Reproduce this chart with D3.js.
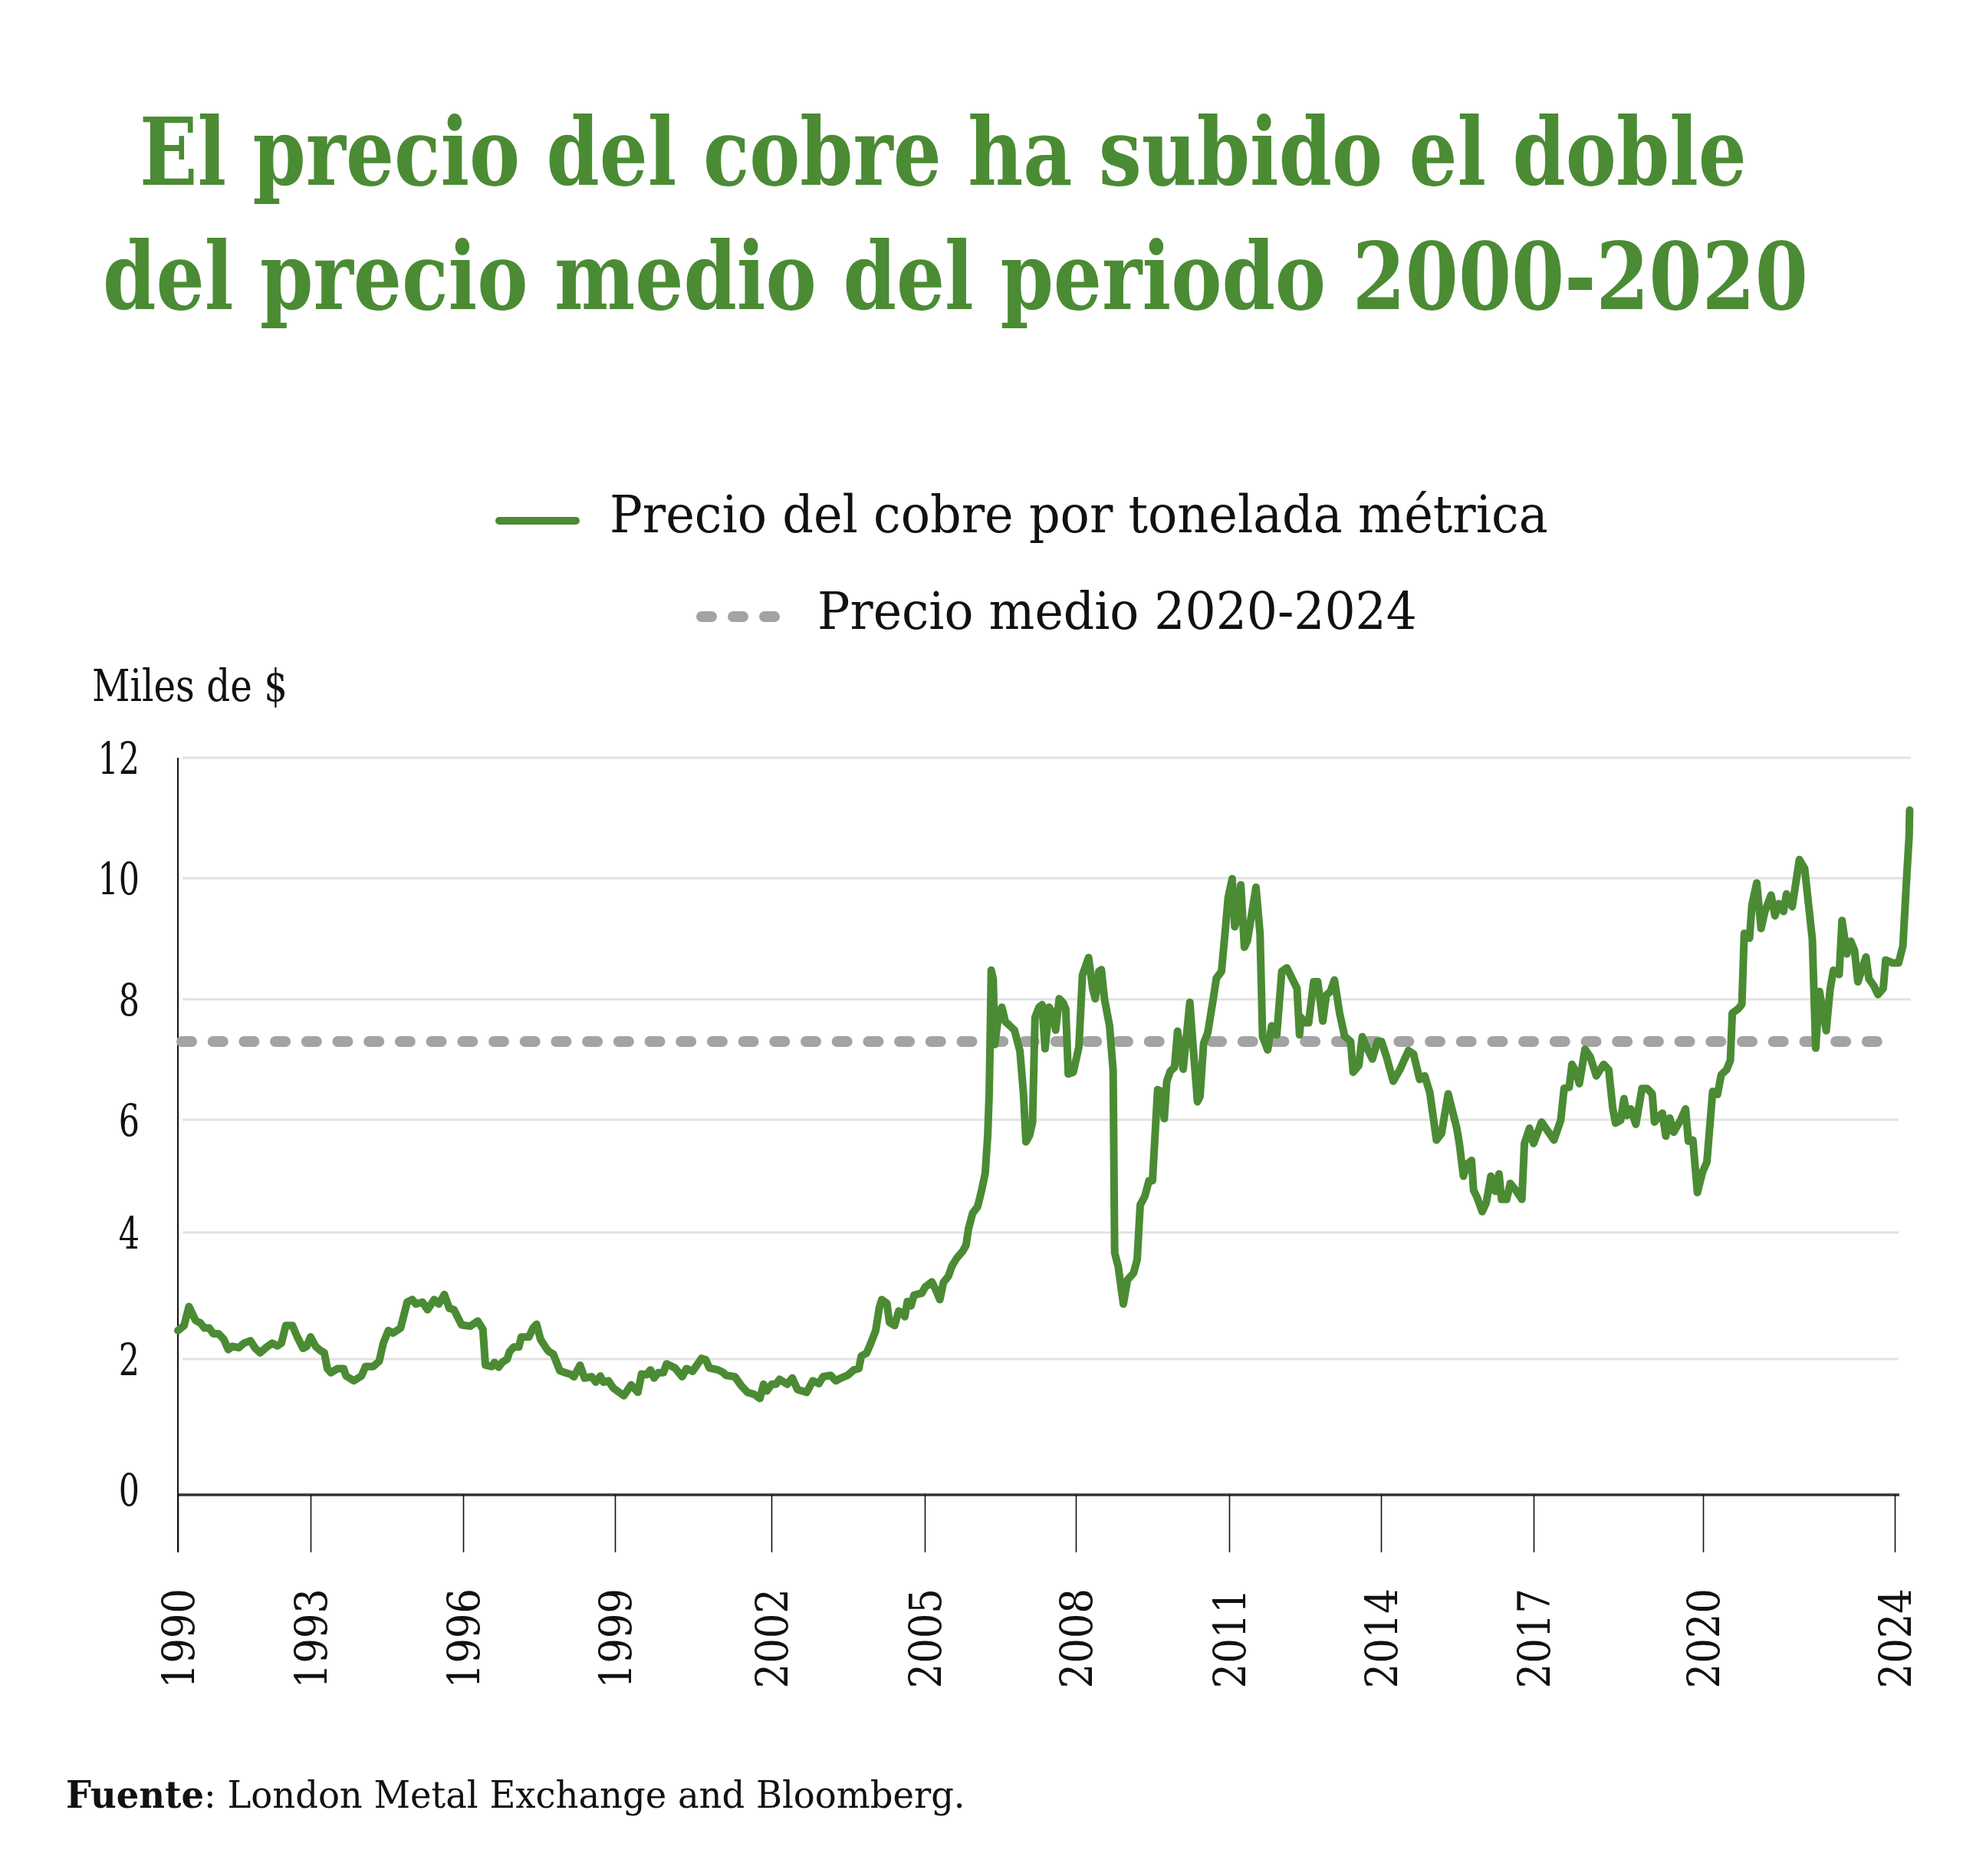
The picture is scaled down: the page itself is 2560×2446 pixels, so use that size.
<!DOCTYPE html>
<html><head><meta charset="utf-8">
<script src="https://cdn.jsdelivr.net/npm/d3@7"></script>
<style>
html,body{margin:0;padding:0;background:#fff;}
svg{display:block;}
text{font-family:"DejaVu Serif",serif;font-stretch:condensed;}
</style></head><body>
<svg id="chart" width="2560" height="2446"></svg>
<script>
// ---------- data ----------
const titleLines = ["El precio del cobre ha subido el doble", "del precio medio del periodo 2000-2020"];
const legendLabels = ["Precio del cobre por tonelada métrica", "Precio medio 2020-2024"];
const yAxisTitle = "Miles de $";
const sourceBold = "Fuente";
const sourceRest = ": London Metal Exchange and Bloomberg.";
const yTicks = [0, 2, 4, 6, 8, 10, 12];
const xTicks = [1990, 1993, 1996, 1999, 2002, 2005, 2008, 2011, 2014, 2017, 2020, 2024];
const averagePrice = 7.3;

const years = [
1990.00,1990.14,1990.25,1990.40,1990.51,1990.60,1990.71,1990.80,1990.92,1991.04,1991.14,1991.23,1991.38,1991.49,1991.64,1991.75,1991.86,1991.99,
1992.13,1992.25,1992.34,1992.44,1992.59,1992.70,1992.83,1992.91,1993.00,1993.10,1993.20,1993.27,1993.33,1993.40,1993.53,1993.65,1993.70,1993.85,
1994.00,1994.08,1994.23,1994.35,1994.43,1994.53,1994.62,1994.77,1994.90,1995.00,1995.07,1995.20,1995.30,1995.43,1995.52,1995.63,1995.73,1995.82,
1995.97,1996.14,1996.29,1996.39,1996.44,1996.57,1996.62,1996.70,1996.77,1996.87,1996.92,1997.00,1997.10,1997.15,1997.30,1997.38,1997.45,1997.53,
1997.66,1997.71,1997.78,1997.91,1998.01,1998.11,1998.19,1998.31,1998.40,1998.54,1998.62,1998.71,1998.77,1998.87,1998.97,1999.17,1999.31,1999.44,
1999.51,1999.61,1999.68,1999.75,1999.83,1999.93,1999.99,2000.15,2000.29,2000.37,2000.49,2000.66,2000.74,2000.81,2000.98,2001.08,2001.13,2001.30,
2001.42,2001.54,2001.67,2001.78,2001.85,2001.91,2002.01,2002.09,2002.16,2002.31,2002.41,2002.51,2002.69,2002.81,2002.93,2003.01,2003.16,2003.26,
2003.36,2003.49,2003.61,2003.71,2003.76,2003.86,2003.93,2004.04,2004.11,2004.16,2004.26,2004.31,2004.41,2004.49,2004.56,2004.61,2004.66,2004.73,
2004.79,2004.94,2005.01,2005.14,2005.21,2005.30,2005.37,2005.47,2005.54,2005.64,2005.75,2005.82,2005.87,2005.95,2006.05,2006.13,2006.20,2006.25,
2006.28,2006.30,2006.32,2006.36,2006.39,2006.46,2006.53,2006.60,2006.68,2006.78,2006.89,2006.96,2007.01,2007.08,2007.14,2007.19,2007.27,2007.33,
2007.39,2007.47,2007.54,2007.60,2007.67,2007.75,2007.80,2007.85,2007.95,2008.06,2008.13,2008.25,2008.33,2008.38,2008.45,2008.50,2008.56,2008.66,
2008.73,2008.76,2008.83,2008.93,2009.01,2009.13,2009.20,2009.26,2009.35,2009.43,2009.50,2009.60,2009.68,2009.73,2009.78,2009.85,2009.93,2009.99,
2010.04,2010.10,2010.23,2010.30,2010.38,2010.43,2010.50,2010.58,2010.70,2010.75,2010.85,2010.93,2010.98,2011.06,2011.11,2011.16,2011.23,2011.30,
2011.36,2011.53,2011.61,2011.66,2011.71,2011.76,2011.84,2011.94,2012.04,2012.14,2012.24,2012.34,2012.39,2012.42,2012.50,2012.57,2012.67,2012.75,
2012.85,2012.92,2013.00,2013.08,2013.18,2013.28,2013.40,2013.45,2013.56,2013.63,2013.68,2013.83,2013.93,2014.01,2014.11,2014.24,2014.37,2014.54,
2014.64,2014.76,2014.86,2014.96,2015.09,2015.19,2015.32,2015.49,2015.54,2015.62,2015.69,2015.78,2015.82,2015.89,2015.99,2016.07,2016.16,2016.25,
2016.32,2016.37,2016.47,2016.54,2016.65,2016.77,2016.82,2016.92,2017.00,2017.14,2017.25,2017.36,2017.48,2017.54,2017.63,2017.68,2017.75,2017.81,
2017.91,2018.00,2018.11,2018.24,2018.33,2018.40,2018.45,2018.54,2018.60,2018.65,2018.72,2018.81,2018.92,2019.01,2019.10,2019.14,2019.23,2019.28,
2019.34,2019.41,2019.48,2019.60,2019.69,2019.74,2019.82,2019.90,2019.99,2020.08,2020.20,2020.30,2020.38,2020.49,2020.57,2020.61,2020.73,2020.81,
2020.86,2020.97,2021.02,2021.12,2021.21,2021.29,2021.42,2021.50,2021.58,2021.68,2021.74,2021.86,2022.01,2022.12,2022.28,2022.35,2022.43,2022.57,
2022.65,2022.72,2022.84,2022.90,2023.00,2023.08,2023.16,2023.23,2023.40,2023.46,2023.56,2023.65,2023.76,2023.81,2023.96,2024.08,2024.17,2024.25,
2024.30,2024.31
];
const prices = [
2.45,2.53,2.83,2.61,2.57,2.49,2.49,2.40,2.40,2.31,2.15,2.20,2.18,2.25,2.29,2.17,2.10,2.18,
2.25,2.21,2.25,2.53,2.53,2.35,2.17,2.20,2.35,2.20,2.13,2.10,1.86,1.80,1.86,1.86,1.75,1.68,
1.75,1.89,1.89,1.97,2.25,2.45,2.41,2.49,2.90,2.94,2.87,2.90,2.78,2.94,2.87,3.02,2.80,2.78,
2.54,2.52,2.60,2.47,1.91,1.89,1.95,1.88,1.95,2.00,2.12,2.19,2.19,2.35,2.35,2.49,2.55,2.31,
2.15,2.11,2.08,1.83,1.80,1.78,1.74,1.91,1.72,1.74,1.66,1.75,1.66,1.68,1.57,1.46,1.62,1.51,
1.78,1.77,1.84,1.72,1.80,1.80,1.93,1.87,1.74,1.86,1.82,2.01,1.99,1.87,1.84,1.80,1.76,1.74,
1.61,1.51,1.48,1.42,1.63,1.53,1.63,1.63,1.70,1.63,1.72,1.55,1.51,1.68,1.64,1.74,1.76,1.68,
1.72,1.76,1.84,1.86,2.05,2.09,2.22,2.45,2.81,2.94,2.88,2.58,2.53,2.76,2.73,2.67,2.91,2.84,
3.01,3.04,3.14,3.22,3.11,2.94,3.21,3.31,3.47,3.60,3.70,3.80,4.07,4.34,4.46,4.75,5.05,5.72,
6.44,7.42,8.48,8.33,7.25,7.70,7.87,7.63,7.57,7.49,7.14,6.44,5.61,5.72,5.95,7.70,7.87,7.91,
7.18,7.87,7.77,7.49,8.01,7.94,7.84,6.76,6.79,7.21,8.40,8.69,8.18,8.01,8.46,8.49,8.01,7.56,
6.82,3.68,3.46,2.87,3.25,3.36,3.57,4.49,4.64,4.92,4.92,6.50,6.47,6.02,6.64,6.81,6.87,7.47,
7.16,6.84,7.95,7.16,6.30,6.39,7.27,7.44,8.07,8.35,8.46,9.20,9.68,9.99,9.20,9.37,9.89,8.86,
8.97,9.85,9.08,7.38,7.27,7.16,7.56,7.41,8.46,8.52,8.35,8.18,7.41,7.70,7.61,7.61,8.29,8.29,
7.64,8.07,8.13,8.32,7.78,7.39,7.30,6.79,6.90,7.38,7.27,7.01,7.30,7.30,7.04,6.64,6.83,7.15,
7.09,6.67,6.73,6.45,5.64,5.76,6.43,5.85,5.58,5.00,5.21,5.28,4.75,4.62,4.37,4.53,5.00,4.73,
5.04,4.59,4.59,4.87,4.75,4.59,5.58,5.85,5.58,5.96,5.80,5.64,5.99,6.52,6.54,6.92,6.79,6.60,
7.17,7.05,6.73,6.92,6.83,6.20,5.94,5.99,6.35,6.07,6.18,5.92,6.52,6.52,6.43,5.96,6.07,6.11,
5.71,6.03,5.78,5.99,6.18,5.62,5.64,4.71,5.07,5.25,6.47,6.42,6.75,6.83,6.99,7.77,7.84,7.92,
9.09,9.01,9.56,9.92,9.17,9.45,9.72,9.38,9.58,9.45,9.74,9.53,10.31,10.16,8.99,7.19,8.13,7.48,
8.16,8.48,8.41,9.30,8.75,8.96,8.81,8.29,8.70,8.34,8.23,8.08,8.18,8.65,8.60,8.60,8.88,10.03,
10.70,11.13
];

// ---------- layout ----------
const green = "#4b8b34";
const svg = d3.select("#chart");
svg.append("rect").attr("width", 2560).attr("height", 2446).attr("fill", "#fff");

const x = d3.scaleLinear()
  .domain(xTicks)
  .range([232, 405, 604, 802, 1006, 1206, 1403, 1603, 1801, 2000, 2221, 2471]);
const y = d3.scaleLinear()
  .domain(yTicks)
  .range([1949, 1772, 1607, 1460, 1303, 1145, 988]);

// helper: fit a text horizontally to a target width via a scale transform
function fitWidth(sel, x0, y0, w) {
  sel.attr("x", 0).attr("y", 0);
  const nat = sel.node().getComputedTextLength();
  sel.attr("transform", `translate(${x0},${y0}) scale(${w / nat},1)`);
}

// title
const titleSpec = [{x: 182, y: 241, w: 2096}, {x: 134, y: 403, w: 2224}];
titleLines.forEach((t, i) => {
  const el = svg.append("text")
    .attr("fill", green).attr("font-weight", "bold").attr("font-size", 122).text(t);
  fitWidth(el, titleSpec[i].x, titleSpec[i].y, titleSpec[i].w);
});

// legend
const lg = svg.append("g");
lg.append("line").attr("x1", 651).attr("x2", 751).attr("y1", 679).attr("y2", 679)
  .attr("stroke", green).attr("stroke-width", 10).attr("stroke-linecap", "round");
lg.append("line").attr("x1", 915).attr("x2", 1010).attr("y1", 804).attr("y2", 804)
  .attr("stroke", "#a3a3a3").attr("stroke-width", 14).attr("stroke-linecap", "round")
  .attr("stroke-dasharray", "13 28");
const legSpec = [{x: 795, y: 694, w: 1224}, {x: 1066, y: 820, w: 782}];
legendLabels.forEach((t, i) => {
  const el = lg.append("text").attr("font-size", 67).attr("fill", "#111").text(t);
  fitWidth(el, legSpec[i].x, legSpec[i].y, legSpec[i].w);
});

// y axis title
fitWidth(svg.append("text").attr("font-size", 57).attr("fill", "#111").text(yAxisTitle), 120, 914, 255);

// gridlines
svg.append("g").selectAll("line").data(yTicks.filter(d => d > 0)).join("line")
  .attr("x1", 238).attr("x2", d => d >= 8 ? 2492 : 2476)
  .attr("y1", d => y(d)).attr("y2", d => y(d))
  .attr("stroke", "#e2e2e2").attr("stroke-width", 3);

// y tick labels
svg.append("g").selectAll("text").data(yTicks).join("text")
  .attr("transform", d => `translate(182,${y(d) + (d === 0 ? 14 : 21)}) scale(0.82,1)`)
  .attr("text-anchor", "end").attr("font-size", 58).attr("fill", "#111")
  .text(d => d);

// x axis
const xAxis = d3.axisBottom(x).tickValues(xTicks).tickSize(75).tickSizeOuter(0).tickFormat(d3.format("d"));
const gx = svg.append("g").attr("transform", "translate(0,1949)").call(xAxis);
gx.select(".domain").attr("stroke", "#333").attr("stroke-width", 3.5)
  .attr("d", "M232,0H2477");
gx.selectAll(".tick line").attr("stroke", "#111").attr("stroke-width", 1.6);
gx.selectAll(".tick text")
  .attr("transform", "rotate(-90)")
  .attr("x", -122).attr("y", 0).attr("dy", "0.36em")
  .attr("text-anchor", "end")
  .attr("font-size", 57)
  .attr("font-family", "DejaVu Serif")
  .style("font-stretch", "condensed")
  .attr("fill", "#111");

// y axis line
svg.append("line").attr("x1", 232).attr("x2", 232).attr("y1", 988).attr("y2", 2024)
  .attr("stroke", "#111").attr("stroke-width", 2);

// average dashed line
svg.append("line")
  .attr("x1", 237).attr("x2", 2468)
  .attr("y1", y(averagePrice)).attr("y2", y(averagePrice))
  .attr("stroke", "#a3a3a3").attr("stroke-width", 14)
  .attr("stroke-linecap", "round").attr("stroke-dasharray", "13 27.7");

// price line
const pts = years.map((yr, i) => [yr, prices[i]]);
svg.append("path").datum(pts)
  .attr("fill", "none").attr("stroke", green).attr("stroke-width", 10)
  .attr("stroke-linejoin", "round").attr("stroke-linecap", "round")
  .attr("d", d3.line().x(d => x(d[0])).y(d => y(d[1])));

// source
const src = svg.append("text").attr("font-size", 48).attr("fill", "#111");
src.append("tspan").attr("font-weight", "bold").text(sourceBold);
src.append("tspan").text(sourceRest);
fitWidth(src, 86, 2357, 1173);
</script>
</body></html>
